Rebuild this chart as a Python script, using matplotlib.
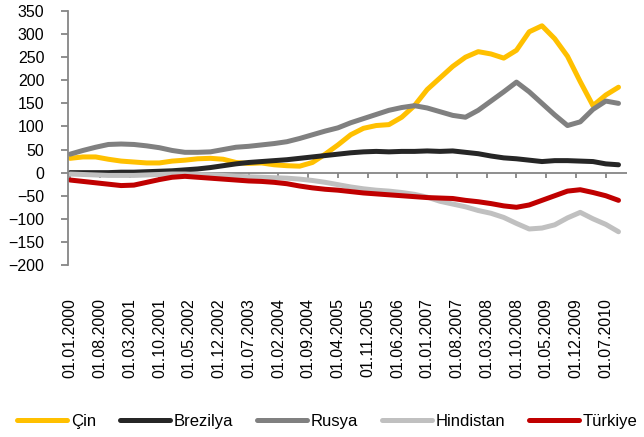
import matplotlib
matplotlib.use("Agg")
import matplotlib.pyplot as plt

plt.rcParams['font.family'] = ['Liberation Sans', 'DejaVu Sans']

# month index from Jan 2000, sampled every 3 months
months = list(range(0, 130, 3))

cin = [31, 34, 34, 29, 25, 23, 21, 21, 25, 27, 30, 31, 29, 22, 20,
       21, 17, 15, 14, 22, 40, 60, 82, 96, 102, 104, 120, 145, 180, 205,
       230, 250, 262, 257, 248, 265, 305, 318, 290, 252, 197, 145, 168, 185]
brezilya = [0, 0, 0, 0, 1, 1, 2, 3, 4, 6, 8, 11, 15, 19, 22,
            24, 26, 28, 31, 34, 37, 40, 43, 45, 46, 45, 46, 46, 47, 46,
            47, 44, 41, 36, 32, 30, 27, 24, 26, 26, 25, 24, 19, 17]
rusya = [40, 48, 55, 61, 62, 61, 58, 54, 48, 44, 44, 45, 50, 55, 57,
         60, 63, 67, 74, 82, 90, 97, 108, 117, 126, 135, 141, 145, 140, 132,
         124, 120, 135, 155, 175, 196, 175, 150, 125, 102, 110, 137, 155, 150]
hindistan = [-3, -4, -5, -6, -6, -6, -5, -4, -3, -3, -4, -5, -6, -8, -9,
             -10, -11, -12, -14, -17, -21, -26, -31, -35, -38, -40, -43, -47, -53, -62,
             -68, -74, -82, -88, -97, -110, -122, -120, -113, -98, -86, -100, -112, -128]
turkiye = [-16, -19, -22, -25, -28, -27, -21, -15, -10, -8, -10, -12, -14, -16, -18,
           -19, -21, -24, -29, -33, -36, -38, -41, -44, -46, -48, -50, -52, -54, -55,
           -56, -60, -63, -67, -72, -75, -70, -60, -50, -40, -37, -43, -50, -60]

tick_months = list(range(0, 127, 7))
tick_labels = ['01.01.2000', '01.08.2000', '01.03.2001', '01.10.2001', '01.05.2002',
               '01.12.2002', '01.07.2003', '01.02.2004', '01.09.2004', '01.04.2005',
               '01.11.2005', '01.06.2006', '01.01.2007', '01.08.2007', '01.03.2008',
               '01.10.2008', '01.05.2009', '01.12.2009', '01.07.2010']

series = [('Çin', cin, '#FFC000'),
          ('Brezilya', brezilya, '#262626'),
          ('Rusya', rusya, '#808080'),
          ('Hindistan', hindistan, '#C0C0C0'),
          ('Türkiye', turkiye, '#C00000')]

fig = plt.figure(figsize=(6.44, 4.37), dpi=100)
ax = fig.add_axes([0.1056, 0.3936, 0.868, 0.5812])

axis_col = '#868686'
ax.axhline(0, color=axis_col, lw=1.3, zorder=1)
ax.vlines(tick_months, -11, 0, color=axis_col, lw=1.3, zorder=1)

for name, vals, col in series:
    ax.plot(months, vals, color=col, lw=3.6, label=name, solid_capstyle='round', zorder=2)

ax.set_xlim(-0.5, 131)
ax.set_ylim(-200, 350)
ax.set_yticks(range(-200, 351, 50))
ax.set_xticks(tick_months)
ax.set_xticklabels(tick_labels, rotation=90)
ax.tick_params(axis='x', length=0, pad=24, labelsize=11.5)
ax.tick_params(axis='y', length=5, width=1.3, color=axis_col, pad=12, labelsize=11.5)

for s in ['top', 'right', 'bottom']:
    ax.spines[s].set_visible(False)
ax.spines['left'].set_color(axis_col)
ax.spines['left'].set_linewidth(1.3)

fig.legend(loc='lower center', bbox_to_anchor=(0.508, -0.015), ncol=5, frameon=False,
           fontsize=12, handlelength=3.0, handletextpad=0.2, columnspacing=1.45)

fig.savefig('out.png', dpi=100)
